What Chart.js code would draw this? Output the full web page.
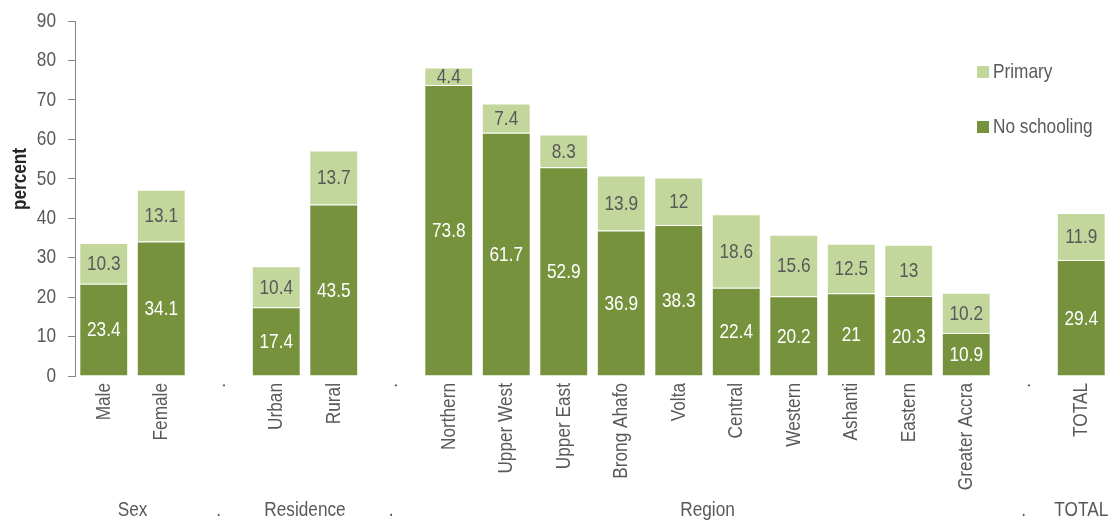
<!DOCTYPE html>
<html>
<head>
<meta charset="utf-8">
<script src="https://cdn.jsdelivr.net/npm/chart.js@4/dist/chart.umd.min.js"></script>
<style>
  html, body { margin: 0; padding: 0; background: #ffffff; }
  #c { display: block; }
</style>
</head>
<body>
<canvas id="c" width="1116" height="522"></canvas>
<script>
// Categories along the x axis; "." entries are spacer slots between groups
const categories = ['Male', 'Female', '.', 'Urban', 'Rural', '.', 'Northern', 'Upper West', 'Upper East',
  'Brong Ahafo', 'Volta', 'Central', 'Western', 'Ashanti', 'Eastern', 'Greater Accra', '.', 'TOTAL'];

// Percent with no schooling / primary only
const noSchooling = [23.4, 34.1, null, 17.4, 43.5, null, 73.8, 61.7, 52.9, 36.9, 38.3, 22.4, 20.2, 21, 20.3, 10.9, null, 29.4];
const primary     = [10.3, 13.1, null, 10.4, 13.7, null, 4.4, 7.4, 8.3, 13.9, 12, 18.6, 15.6, 12.5, 13, 10.2, null, 11.9];

// Group captions under the category labels (first/last category index of each)
const groupLabels = ['Sex', '.', 'Residence', '.', 'Region', '.', 'TOTAL'];
const groupFirst  = [0, 2, 3, 5, 6, 16, 17];
const groupLast   = [1, 2, 4, 5, 15, 16, 17];

// Value axis
const yMin = 0, yMax = 90, yStep = 10;
const yTitle = 'percent';

const FONT = "'Liberation Sans', Arial, sans-serif";
const NARROW = 0.82;          // horizontal squeeze for a narrow face
const TEXT = '#595959';
const DARK = '#76923c';
const LIGHT = '#c3d69b';

// Draw condensed text, optionally rotated to read bottom-to-top
function narrowText(ctx, text, x, y, opt) {
  ctx.save();
  ctx.translate(x, y);
  if (opt.rotate) ctx.rotate(-Math.PI / 2);
  ctx.scale(NARROW, 1);
  ctx.font = (opt.bold ? 'bold ' : '') + (opt.size || 21) + 'px ' + FONT;
  ctx.fillStyle = opt.color || TEXT;
  ctx.textAlign = opt.align || 'center';
  ctx.textBaseline = opt.baseline || 'middle';
  ctx.fillText(text, 0, 0);
  ctx.restore();
}

const valueLabels = {
  id: 'valueLabels',
  afterDatasetsDraw(chart) {
    const ctx = chart.ctx;
    chart.data.datasets.forEach((ds, di) => {
      const meta = chart.getDatasetMeta(di);
      meta.data.forEach((bar, i) => {
        const v = ds.data[i];
        if (v === null || v === undefined) return;
        const p = bar.getProps(['x', 'y', 'base'], true);
        narrowText(ctx, String(v), p.x, (p.y + p.base) / 2 + 1, { color: ds.labelColor });
      });
    });
  }
};

const axisText = {
  id: 'axisText',
  afterDraw(chart) {
    const ctx = chart.ctx;
    const x = chart.scales.x, y = chart.scales.y;
    // value axis numbers
    y.ticks.forEach(t => {
      narrowText(ctx, String(t.value), 56, y.getPixelForValue(t.value), { align: 'right' });
    });
    // value axis title
    narrowText(ctx, yTitle, 20, 179, { rotate: true, bold: true, color: '#262626' });
    // category names, rotated
    categories.forEach((c, i) => {
      narrowText(ctx, c, x.getPixelForValue(i), x.top + 7, { rotate: true, align: 'right' });
    });
    // group captions
    groupLabels.forEach((g, k) => {
      const cx = (x.getPixelForValue(groupFirst[k]) + x.getPixelForValue(groupLast[k])) / 2;
      narrowText(ctx, g, cx, 510, {});
    });
  }
};

const sideLegend = {
  id: 'sideLegend',
  afterDraw(chart) {
    const ctx = chart.ctx;
    const items = chart.data.datasets.slice().reverse();
    items.forEach((ds, k) => {
      const cy = 72 + k * 55;
      ctx.fillStyle = ds.backgroundColor;
      ctx.fillRect(977, cy - 6, 12, 12);
      narrowText(ctx, ds.label, 993, cy, { align: 'left' });
    });
  }
};

new Chart(document.getElementById('c'), {
  type: 'bar',
  data: {
    labels: categories,
    datasets: [
      { label: 'No schooling', data: noSchooling, backgroundColor: DARK, borderColor: 'rgba(255,255,255,0.3)',
        borderWidth: 1, labelColor: '#ffffff' },
      { label: 'Primary', data: primary, backgroundColor: LIGHT, borderColor: 'rgba(255,255,255,0.45)',
        borderWidth: 1, labelColor: TEXT }
    ]
  },
  options: {
    responsive: false,
    animation: false,
    devicePixelRatio: 1,
    layout: { padding: { top: 21, right: 6, left: 0, bottom: 0 } },
    datasets: { bar: { categoryPercentage: 1, barPercentage: 0.85 } },
    plugins: { legend: { display: false }, tooltip: { enabled: false } },
    scales: {
      x: {
        stacked: true,
        grid: { display: false, drawTicks: false },
        border: { display: false },
        ticks: { color: 'rgba(0,0,0,0)', autoSkip: false, minRotation: 90, maxRotation: 90 },
        afterFit(s) { s.height = 146; }
      },
      y: {
        stacked: true,
        min: yMin, max: yMax,
        grid: { display: true, drawOnChartArea: false, drawTicks: true, tickLength: 7, color: '#868686' },
        border: { display: true, color: '#868686', width: 1 },
        ticks: { stepSize: yStep, color: 'rgba(0,0,0,0)', font: { size: 18 } },
        afterFit(s) { s.width = 75; }
      }
    }
  },
  plugins: [valueLabels, axisText, sideLegend]
});
</script>
</body>
</html>
